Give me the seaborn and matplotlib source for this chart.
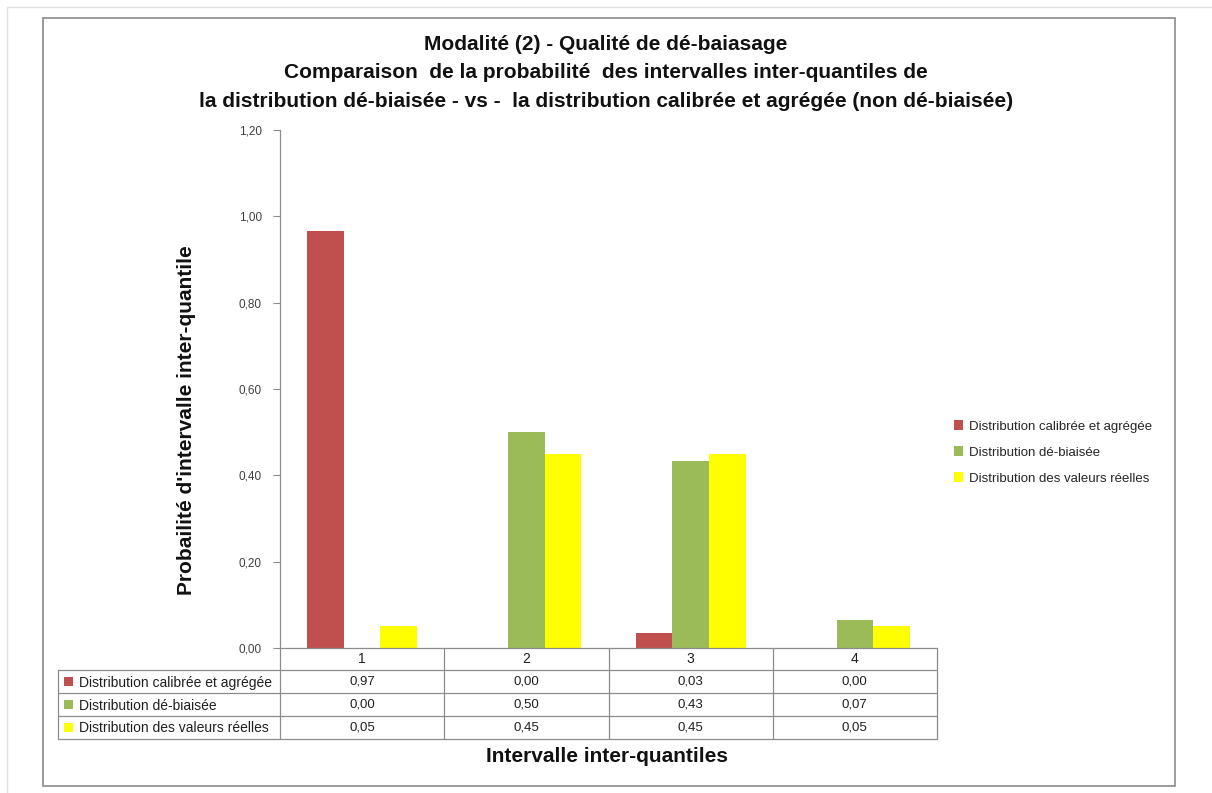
import pandas as pd
import matplotlib
matplotlib.use("Agg")
import matplotlib.pyplot as plt
import matplotlib.transforms as mtransforms
import seaborn as sns
from matplotlib.lines import Line2D
from matplotlib.patches import Rectangle

# data
categories = ["1", "2", "3", "4"]
series_names = ["Distribution calibrée et agrégée",
                "Distribution dé-biaisée",
                "Distribution des valeurs réelles"]
calibree = [0.966, 0.0, 0.034, 0.0]
debiaisee = [0.0, 0.500, 0.434, 0.066]
reelles = [0.05, 0.45, 0.45, 0.05]
colors = ["#C0504D", "#9BBB59", "#FFFF00"]
yticks = [0.0, 0.2, 0.4, 0.6, 0.8, 1.0, 1.2]

title = ("Modalité (2) - Qualité de dé-baiasage\n"
         "Comparaison  de la probabilité  des intervalles inter-quantiles de\n"
         "la distribution dé-biaisée - vs -  la distribution calibrée et agrégée (non dé-biaisée)")
ylabel = "Probailité d'intervalle inter-quantile"
xlabel = "Intervalle inter-quantiles"

W, H = 1212, 793


def fx(px):
    return px / W


def fy(py):
    return 1 - py / H


sns.set_theme(style="white")
plt.rcParams["font.family"] = ["Liberation Sans", "DejaVu Sans"]
grid_col = "#8C8C8C"

fig = plt.figure(figsize=(W / 100, H / 100), dpi=100)
fig.patch.set_facecolor("white")
ax = fig.add_axes([fx(280), fy(648), fx(937) - fx(280), fy(130) - fy(648)])

values = [calibree, debiaisee, reelles]
df = pd.DataFrame({
    "intervalle": categories * 3,
    "serie": [s for s in series_names for _ in categories],
    "prob": calibree + debiaisee + reelles,
})
sns.barplot(data=df, x="intervalle", y="prob", hue="serie", order=categories,
            hue_order=series_names, palette=colors, saturation=1, width=0.67,
            linewidth=0, legend=False, ax=ax)

ax.set_xlim(-0.5, len(categories) - 0.5)
ax.set_ylim(0, 1.2)
ax.set_yticks(yticks)
ax.set_yticklabels([f"{v:.2f}".replace(".", ",") for v in yticks], fontsize=8.5, color="#404040")
ax.set_xticks([])
ax.set_xlabel("")
ax.set_ylabel("")
ax.tick_params(axis="y", left=True, length=5, width=0.8, color=grid_col, pad=8)
for side in ["top", "right"]:
    ax.spines[side].set_visible(False)
for side in ["left", "bottom"]:
    ax.spines[side].set_color(grid_col)
    ax.spines[side].set_linewidth(0.9)

# data table under the axis
trans = mtransforms.blended_transform_factory(ax.transData, fig.transFigure)
row_tops = [648, 670, 693, 716, 739]
x_bounds = [i - 0.5 for i in range(len(categories) + 1)]
for xb in x_bounds:
    fig.add_artist(Line2D([xb, xb], [fy(648), fy(739)], color=grid_col, lw=0.9, transform=trans))
for yr in row_tops[1:]:
    fig.add_artist(Line2D([fx(58), fx(937)], [fy(yr), fy(yr)], color=grid_col, lw=0.9))
fig.add_artist(Line2D([fx(58), fx(58)], [fy(670), fy(739)], color=grid_col, lw=0.9))

for i, c in enumerate(categories):
    fig.text(i, fy((row_tops[0] + row_tops[1]) / 2), c, transform=trans,
             ha="center", va="center", fontsize=10, color="#202020")
for r, (name, vals, col) in enumerate(zip(series_names, values, colors)):
    yc = fy((row_tops[r + 1] + row_tops[r + 2]) / 2)
    fig.add_artist(Rectangle((fx(64), yc - 4.5 / H), 9 / W, 9 / H, transform=fig.transFigure,
                             facecolor=col, edgecolor="none"))
    fig.text(fx(79), yc - 1 / H, name, ha="left", va="center", fontsize=10, color="#202020")
    for i, v in enumerate(vals):
        fig.text(i, yc, f"{v:.2f}".replace(".", ","), transform=trans,
                 ha="center", va="center", fontsize=9.5, color="#202020")

# legend on the right
handles = [Rectangle((0, 0), 1, 1, facecolor=c, edgecolor="none") for c in colors]
fig.legend(handles, series_names, loc="upper left", bbox_to_anchor=(fx(949), fy(415)),
           frameon=False, fontsize=9.5, handlelength=0.65, handleheight=0.8,
           handletextpad=0.5, labelspacing=1.0, borderaxespad=0)

# titles
fig.text(0.5, fy(73), title, ha="center", va="center", fontsize=15, fontweight="bold",
         linespacing=1.65, color="#111111")
fig.text(fx(187), fy(420), ylabel, rotation=90, ha="center", va="center",
         fontsize=15, fontweight="bold", color="#111111")
fig.text(fx(607), fy(757), xlabel, ha="center", va="center",
         fontsize=15, fontweight="bold", color="#111111")

# chart frame and sheet gridlines
fig.add_artist(Rectangle((fx(43), fy(786)), fx(1175) - fx(43), fy(18) - fy(786),
                         transform=fig.transFigure, fill=False, edgecolor="#8A8A8A", lw=1.2))
fig.add_artist(Line2D([fx(7), 1], [fy(7), fy(7)], color="#E2E2E2", lw=1))
fig.add_artist(Line2D([fx(7), fx(7)], [fy(7), 0], color="#E2E2E2", lw=1))

fig.savefig("out.png", dpi=100, facecolor="white")
